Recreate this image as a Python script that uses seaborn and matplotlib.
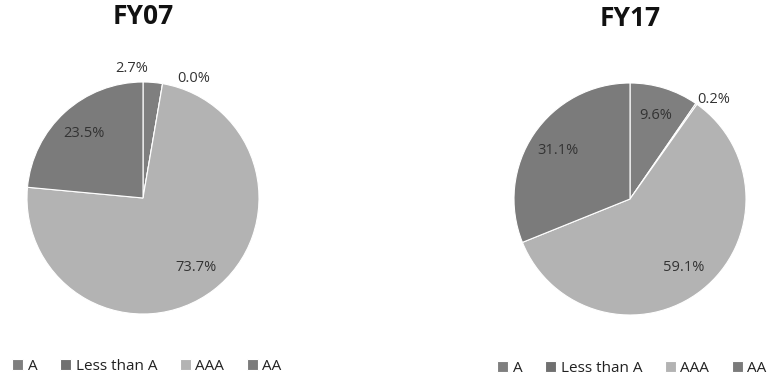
import seaborn as sns
import matplotlib.pyplot as plt
import numpy as np

# ratings share, FY07 vs FY17
categories = ['A', 'Less than A', 'AAA', 'AA']
fy07_values = [2.7, 0.0, 73.7, 23.5]
fy17_values = [9.6, 0.2, 59.1, 31.1]
titles = ['FY07', 'FY17']
colors = ['#7f7f7f', '#707070', '#b3b3b3', '#7b7b7b']

sns.set_theme(style='white')
plt.rcParams['font.family'] = ['Open Sans', 'DejaVu Sans']

fig = plt.figure(figsize=(7.75, 3.83), dpi=100)

W, H = 775, 383
centers = [(143, 198), (630, 199)]
R = 116


def draw_pie(ax, values):
    wedges, _ = ax.pie(values, colors=colors, startangle=90, counterclock=False,
                       radius=1, wedgeprops=dict(edgecolor='white', linewidth=0.8))
    ax.set_xlim(-1, 1)
    ax.set_ylim(-1, 1)
    ax.set_aspect('equal')
    ax.axis('off')
    n_small = 0
    for w, v in zip(wedges, values):
        mid = (w.theta1 + w.theta2) / 2
        if v < 5:
            # small slices get their label outside, spread apart
            shift = [10, -13][n_small] if values[0] < 5 else -5
            n_small += 1
            r = 1.12
            mid += shift
        else:
            r = 0.75
        t = np.deg2rad(mid)
        ax.text(r * np.cos(t), r * np.sin(t), f'{v:.1f}%', ha='center', va='center',
                fontsize=10.5, color='#333333', clip_on=False)
    return wedges


for i, (vals, title) in enumerate(zip([fy07_values, fy17_values], titles)):
    cx, cy = centers[i]
    ax = fig.add_axes([(cx - R) / W, (H - cy - R) / H, 2 * R / W, 2 * R / H])
    wedges = draw_pie(ax, vals)
    fig.text(cx / W, 1 - (16 + 3 * i) / H, title, ha='center', va='center',
             fontsize=19, fontweight='bold', color='#111111')
    leg_x = [147, 632][i]
    leg_y = [366, 368][i]
    fig.legend(wedges, categories, loc='center', bbox_to_anchor=(leg_x / W, 1 - leg_y / H),
               ncol=4, frameon=False, fontsize=11, handlelength=0.7, handleheight=0.7,
               handletextpad=0.3, columnspacing=1.5, labelcolor='#222222')

plt.savefig('out.png', dpi=100)
